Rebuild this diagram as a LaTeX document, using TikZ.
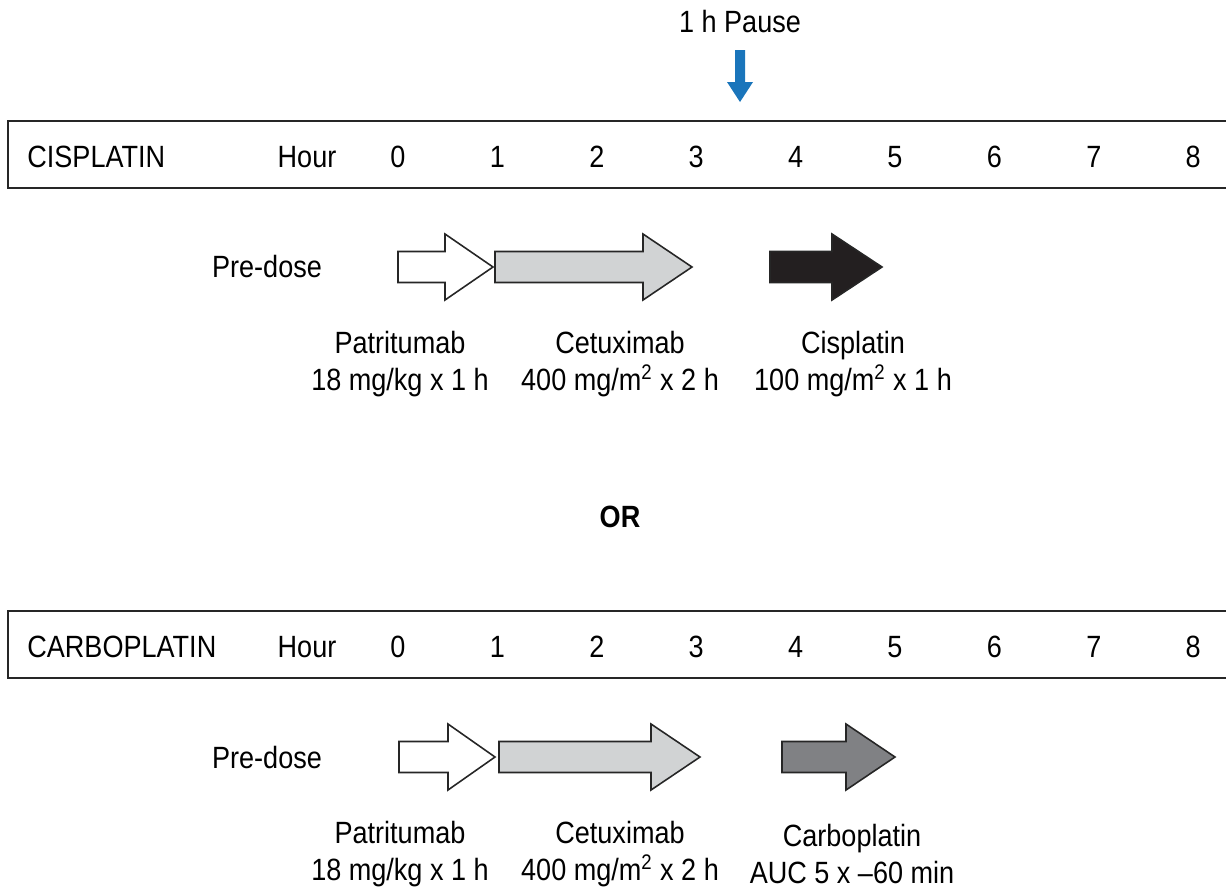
\documentclass[tikz,border=0pt]{standalone}
\usepackage{fontspec}
\setmainfont{Liberation Sans}[FakeStretch=0.88]
\usetikzlibrary{positioning}
\definecolor{pauseblue}{HTML}{1A75BB}
\definecolor{cetuxgrey}{HTML}{D1D3D4}
\definecolor{carbogrey}{HTML}{808184}
\definecolor{cisblack}{HTML}{231F20}
\tikzset{
x=0.02cm, y=-0.02cm, % one unit is one pixel of the layout
every node/.style={font=\fontsize{17.5}{21.5}\selectfont, inner sep=0pt, text=black},
frame/.style={line width=1.4pt, draw=black!85}, % the open timeline box
dosearrow/.style={draw=black!85, line width=0.9pt, line join=miter},
druglabel/.style={align=center},
boldlabel/.style={font=\fontsize{17.5}{21.5}\selectfont\bfseries},
}
% block arrow: left x, head base x, tip x, centre y, fill
\newcommand{\drawdose}[5]{%
\draw[dosearrow, fill=#5] (#1,#4-15.5) -- (#2,#4-15.5) -- (#2,#4-33) -- (#3,#4)
-- (#2,#4+33) -- (#2,#4+15.5) -- (#1,#4+15.5) -- cycle;}
\newcommand{\sqm}{m\textsuperscript{\fontsize{12}{12}\selectfont 2}}

\begin{document}
\begin{tikzpicture}
\useasboundingbox (0,0) rectangle (1226,893);

% pause marker
\node (pause) at (740,22) {1 h Pause};
\fill[pauseblue] (735,50) -- (745,50) -- (745,82) -- (753,82) -- (740,102)
-- (727,82) -- (735,82) -- cycle;

% the two timeline boxes
\foreach \t in {121,611}
\draw[frame] (1240,\t) -- (8,\t) -- (8,\t+67) -- (1240,\t+67);

\node[anchor=west] (cis) at (27,157) {CISPLATIN};
\node[anchor=west] (carb) at (27,647) {CARBOPLATIN};
\foreach \row/\y in {cis/157, carb/647} {
\node (hour-\row) at (307,\y) {Hour};
\foreach \h in {0,...,8}
\node (\row-\h) at ({398+99.4*\h},\y) {\h};
}

% cisplatin schedule
\node (pre-cis) at (267,267) {Pre-dose};
\drawdose{398}{445}{493}{267}{white}
\drawdose{495}{643}{692}{267}{cetuxgrey}
\drawdose{770}{832}{882}{267}{cisblack}
\node[druglabel] (patri-cis) at (400,364) {Patritumab\\18 mg/kg x 1 h};
\node[druglabel] (cetux-cis) at (620,364) {Cetuximab\\400 mg/\sqm{} x 2 h};
\node[druglabel] (cispl) at (853,364) {Cisplatin\\100 mg/\sqm{} x 1 h};

\node[boldlabel] (or) at (620,517) {OR};

% carboplatin schedule
\node (pre-carb) at (267,757) {Pre-dose};
\drawdose{399}{448}{495}{757}{white}
\drawdose{499}{651}{700}{757}{cetuxgrey}
\drawdose{782}{846}{895}{757}{carbogrey}
\node[druglabel] (patri-carb) at (400,854) {Patritumab\\18 mg/kg x 1 h};
\node[druglabel] (cetux-carb) at (620,854) {Cetuximab\\400 mg/\sqm{} x 2 h};
\node[druglabel] (carbo) at (852,854) {Carboplatin\\AUC 5 x –60 min};
\end{tikzpicture}
\end{document}
